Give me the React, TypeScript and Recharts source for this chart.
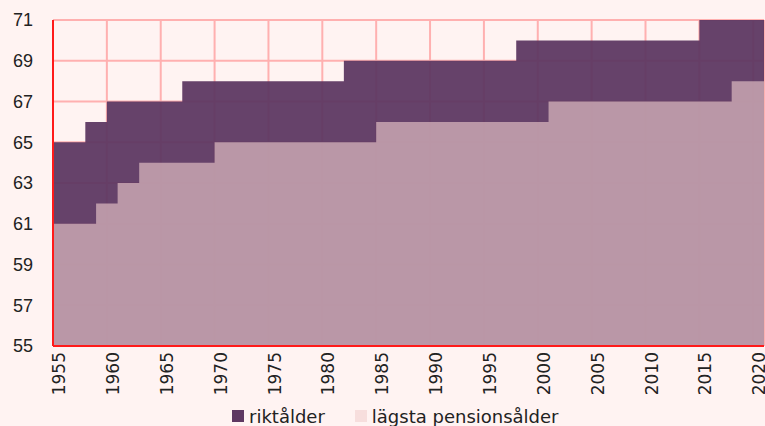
import React from 'react';
import { AreaChart, Area, XAxis, YAxis, CartesianGrid, Legend } from 'recharts';

// years where either age changes (stepAfter keeps the value until next year in list)
const YEARS = [1955, 1958, 1959, 1960, 1961, 1963, 1967, 1970, 1982, 1985, 1998, 2001, 2015, 2018, 2021];
const RIKTALDER = [65, 66, 66, 67, 67, 67, 68, 68, 69, 69, 70, 70, 71, 71, 71];
const LAGSTA = [61, 61, 62, 62, 63, 64, 64, 65, 65, 66, 66, 67, 67, 68, 68];

const X_TICKS = [1955, 1960, 1965, 1970, 1975, 1980, 1985, 1990, 1995, 2000, 2005, 2010, 2015, 2020];
const Y_TICKS = [55, 57, 59, 61, 63, 65, 67, 69, 71];

const DARK = '#5e3862';
const LIGHT = '#f6d6d4';
const LIGHT_SWATCH = '#f7dedd';
const GRID = '#ffb0b0';
const AXIS = '#ff1a1a';

const data = YEARS.map((year, i) => ({ year, rikt: RIKTALDER[i], lagsta: LAGSTA[i] }));

const LegendContent = () => (
  <div style={{ display: 'flex', alignItems: 'center', paddingLeft: 232, paddingTop: 6, fontFamily: '"DejaVu Sans", sans-serif', fontSize: 18, color: '#222', height: 20 }}>
    <span style={{ width: 12, height: 12, background: DARK, display: 'inline-block', marginRight: 5 }} />
    <span style={{ marginRight: 30 }}>riktålder</span>
    <span style={{ width: 12, height: 12, background: LIGHT_SWATCH, display: 'inline-block', marginRight: 5 }} />
    <span>lägsta pensionsålder</span>
  </div>
);

export default function App() {
  return (
    <div style={{ position: 'absolute', left: 0, top: 0, width: 765, height: 426, background: '#fff3f2' }}>
      <AreaChart width={765} height={426} data={data} margin={{ top: 20, right: 1, left: 0, bottom: 0 }}>
        <CartesianGrid stroke={GRID} strokeWidth={2} />
        <XAxis
          dataKey="year"
          type="number"
          domain={[1955, 2021]}
          ticks={X_TICKS}
          interval={0}
          angle={-90}
          textAnchor="end"
          height={54}
          tickLine={false}
          tickSize={4}
          tickMargin={2}
          axisLine={{ stroke: AXIS, strokeWidth: 2 }}
          tick={{ fontFamily: '"DejaVu Sans", sans-serif', fontSize: 17, fill: '#222' }}
        />
        <YAxis
          type="number"
          domain={[55, 71]}
          ticks={Y_TICKS}
          interval={0}
          width={53}
          tickLine={false}
          tickSize={8}
          tickMargin={12}
          axisLine={{ stroke: AXIS, strokeWidth: 2 }}
          tick={{ fontFamily: '"Liberation Sans", Arial, sans-serif', fontSize: 18, fill: '#222' }}
        />
        <Legend verticalAlign="bottom" height={26} content={<LegendContent />} />
        <Area type="stepAfter" dataKey="rikt" stroke="none" fill={DARK} fillOpacity={0.95} isAnimationActive={false} />
        <Area type="stepAfter" dataKey="lagsta" stroke="none" fill={LIGHT} fillOpacity={0.58} isAnimationActive={false} />
      </AreaChart>
    </div>
  );
}
